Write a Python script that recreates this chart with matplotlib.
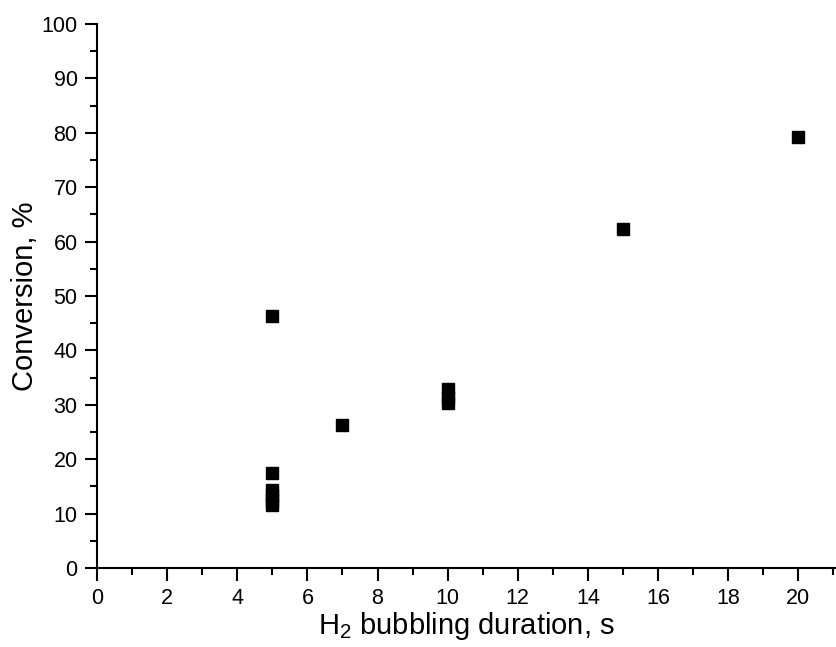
import matplotlib
matplotlib.use('Agg')
import matplotlib.pyplot as plt
from matplotlib.ticker import MultipleLocator

plt.rcParams['font.family'] = 'Liberation Sans'
plt.rcParams['mathtext.fontset'] = 'custom'
plt.rcParams['mathtext.rm'] = 'Liberation Sans'
plt.rcParams['mathtext.it'] = 'Liberation Sans:italic'

# H2 bubbling duration (s) vs conversion (%)
duration = [5, 5, 5, 5, 5, 5, 7, 10, 10, 10, 15, 20]
conversion = [46.4, 17.5, 14.4, 13.4, 12.4, 11.6, 26.3, 32.9, 31.5, 30.3, 62.4, 79.2]

fig = plt.figure(figsize=(8.36, 6.47), dpi=100)
ax = fig.add_axes([0.116, 0.122, 0.883, 0.841])

ax.plot(duration, conversion, 's', color='black', markersize=8.3, linestyle='none')

ax.set_xlim(0, 21.05)
ax.set_ylim(0, 100)
ax.xaxis.set_major_locator(MultipleLocator(2))
ax.xaxis.set_minor_locator(MultipleLocator(1))
ax.yaxis.set_major_locator(MultipleLocator(10))
ax.yaxis.set_minor_locator(MultipleLocator(5))

for side in ['top', 'right']:
    ax.spines[side].set_visible(False)
for side in ['left', 'bottom']:
    ax.spines[side].set_linewidth(1.5)

ax.tick_params(which='major', direction='out', length=9, width=1.5, labelsize=15.5, pad=5)
ax.tick_params(which='minor', direction='out', length=5, width=1.5)

ax.set_xlabel('H$_2$ bubbling duration, s', fontsize=21, labelpad=1)
ax.set_ylabel('Conversion, %', fontsize=21, labelpad=2)

fig.savefig('out.png', dpi=100)
